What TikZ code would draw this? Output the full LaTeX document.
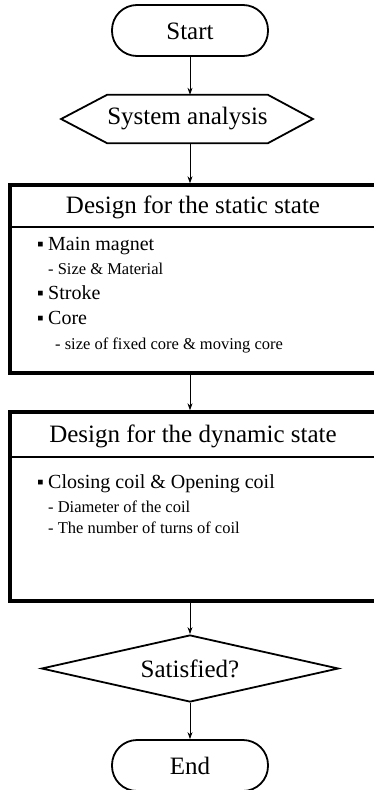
\documentclass[tikz,border=0pt]{standalone}
\usepackage{fontspec}
\setmainfont{Liberation Serif}
\usetikzlibrary{arrows.meta,shapes.geometric,calc}
\begin{document}
\begin{tikzpicture}[x=1pt,y=-1pt,
  term/.style={draw,line width=1.8pt,rounded corners=25pt,minimum width=156pt,minimum height=51pt,inner sep=0pt,text height=18pt,text depth=0pt,font=\fontsize{25}{28}\selectfont},
  arr/.style={-{Stealth[length=7pt,width=5pt]},line width=0.8pt},
  bigbox/.style={draw,line width=3.4pt,minimum width=380pt,inner sep=0pt},
  divider/.style={line width=2.4pt},
  head/.style={anchor=base,inner sep=0pt,font=\fontsize{25}{28}\selectfont},
  item/.style={anchor=base west,inner sep=0pt,font=\fontsize{20}{22}\selectfont},
  sub/.style={anchor=base west,inner sep=0pt,font=\fontsize{16.5}{18}\selectfont}]
\useasboundingbox (0,0) rectangle (374,790);
\newcommand{\bul}{\makebox[11pt][l]{\fontsize{19}{19}\selectfont ▪}}
% terminals and hexagon
\node[term] (start) at (190,30.5) {Start};
\node[inner sep=0pt,minimum width=139pt,minimum height=48pt,font=\fontsize{25}{28}\selectfont] (sys) at (187.5,119) {System analysis};
\draw[line width=1.8pt] (sys.north west) -- (sys.north east) -- ($(sys.east)+(45,0)$) -- (sys.south east) -- (sys.south west) -- ($(sys.west)+(-46,0)$) -- cycle;
% box 1
\node[bigbox,minimum height=188pt] (box1) at (200,279) {};
\draw[divider] (box1.west |- 0,227) -- (box1.east |- 0,227);
\node[head] (h1) at (193,213) {Design for the static state};
\node[item] (i1) at (37,250) {\bul Main magnet};
\node[sub] (s1) at (48,274) {- Size \& Material};
\node[item] (i2) at (37,299) {\bul Stroke};
\node[item] (i3) at (37,324) {\bul Core};
\node[sub] (s2) at (55,349) {- size of fixed core \& moving core};
% box 2
\node[bigbox,minimum height=189pt] (box2) at (200,506.5) {};
\draw[divider] (box2.west |- 0,457) -- (box2.east |- 0,457);
\node[head] (h2) at (193,442) {Design for the dynamic state};
\node[item] (i4) at (37,488) {\bul Closing coil \& Opening coil};
\node[sub] (s3) at (48,512) {- Diameter of the coil};
\node[sub] (s4) at (48,533) {- The number of turns of coil};
% decision and end
\node[diamond,draw,line width=1.8pt,aspect=4.43,minimum width=297pt,minimum height=67pt,inner sep=0pt,font=\fontsize{25}{28}\selectfont] (sat) at (190,668.5) {Satisfied?};
\node[term] (end) at (190,765.5) {End};
% connectors
\draw[arr] (start.south) -- (start.south |- sys.north);
\draw[arr] (sys.south -| start.south) -- (start.south |- box1.north);
\draw[arr] (box1.south -| start.south) -- (start.south |- box2.north);
\draw[arr] (box2.south -| start.south) -- (sat.north);
\draw[arr] (sat.south) -- (end.north);
\end{tikzpicture}
\end{document}
